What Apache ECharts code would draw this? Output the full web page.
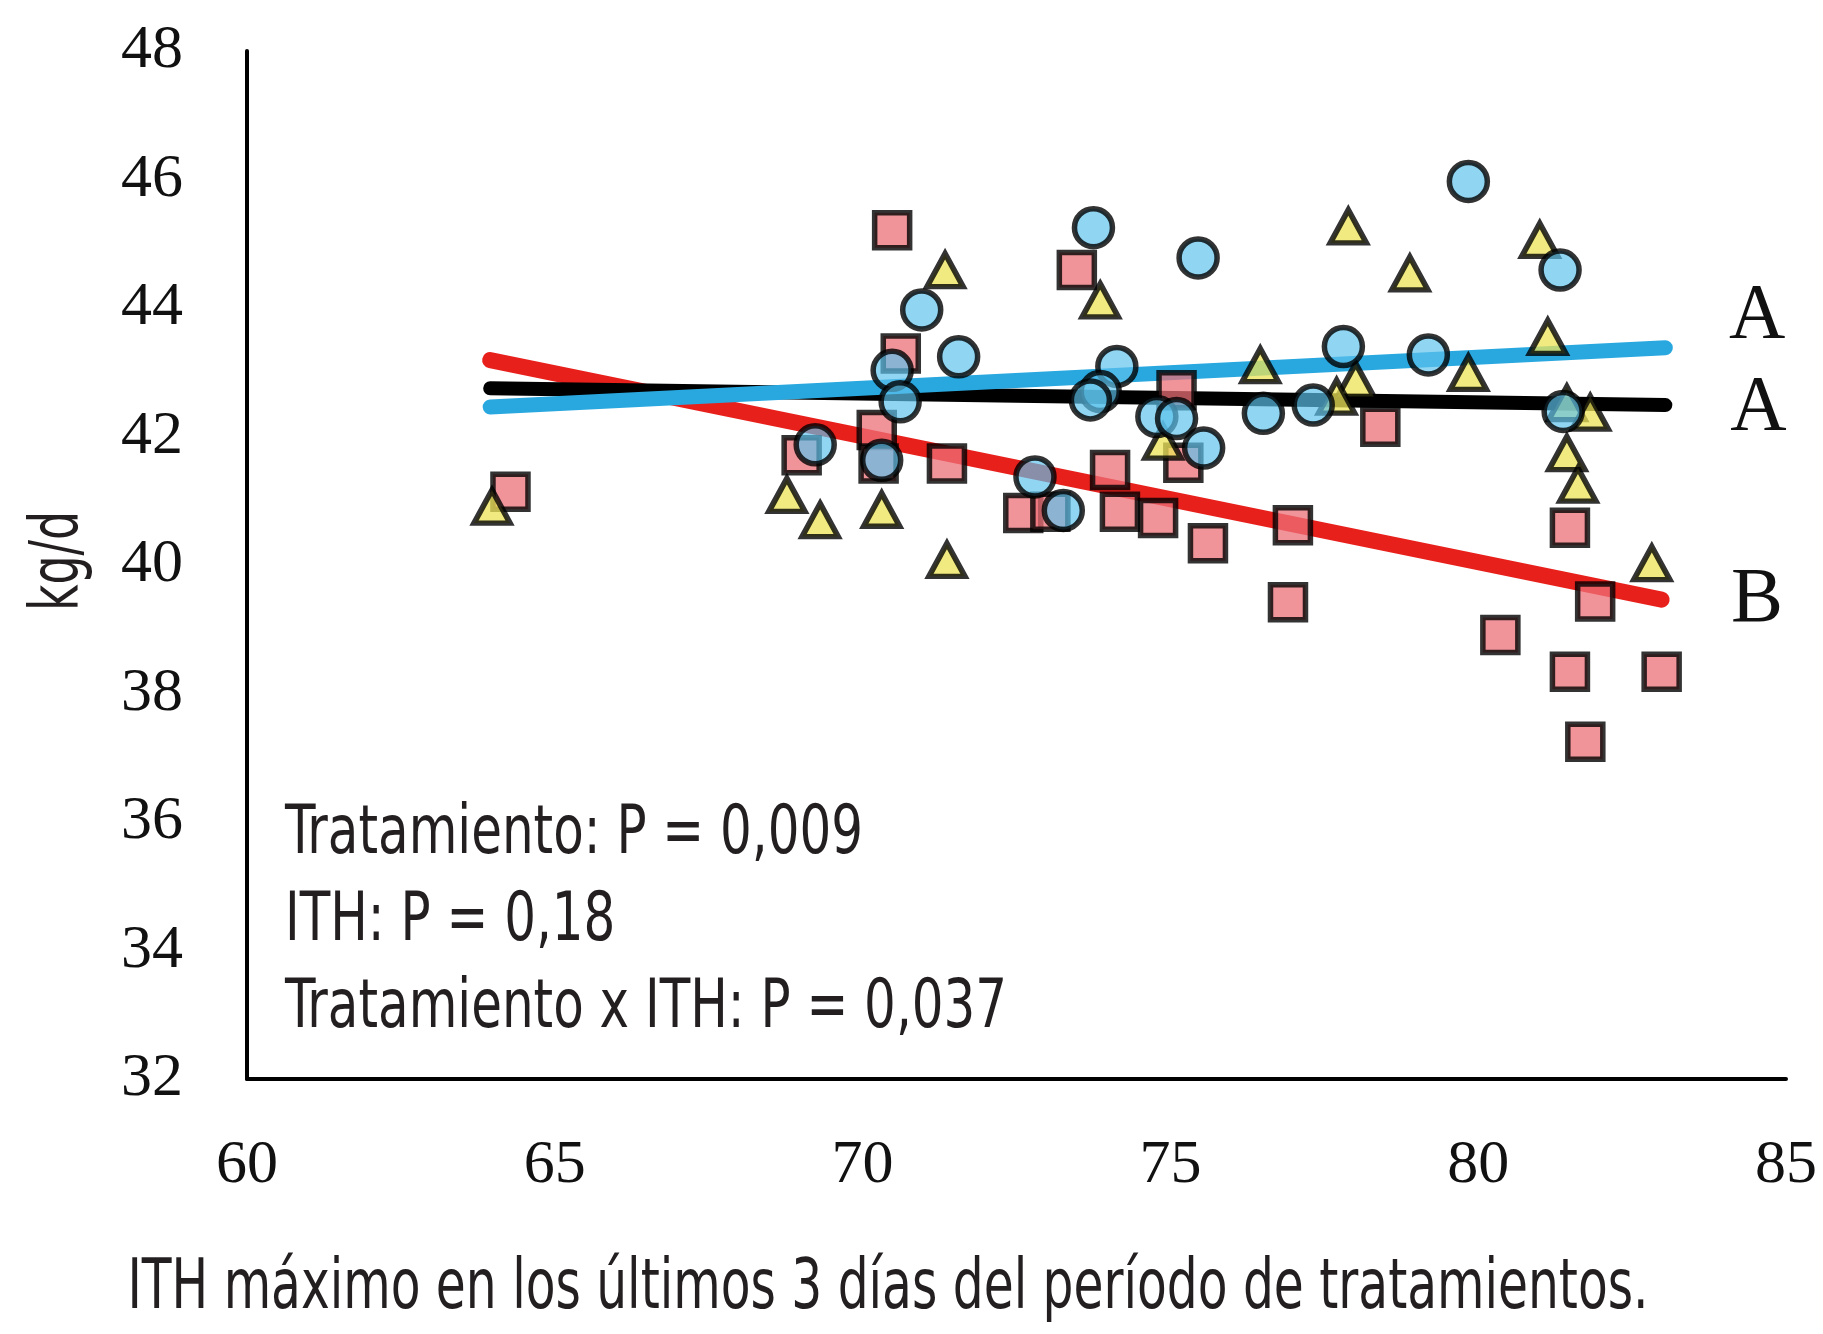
<!DOCTYPE html>
<html>
<head>
<meta charset="utf-8">
<script src="https://cdn.jsdelivr.net/npm/echarts@6/dist/echarts.min.js"></script>
<style>
html,body{margin:0;padding:0;background:#fff;}
#chart{width:1823px;height:1334px;}
</style>
</head>
<body>
<div id="chart"></div>
<script>
// ---- Data ----
// Treatment with squares (red regression, group B)
const squaresX = [64.28,70.48,70.62,70.23,69.01,71.37,70.26,73.48,72.61,73.05,74.02,74.18,74.80,75.10,75.21,75.61,76.99,76.91,78.41,80.36,81.49,81.90,81.49,81.74,82.98];
const squaresY = [41.14,45.21,43.29,42.10,41.71,41.58,41.58,44.59,40.81,40.83,41.48,40.83,40.73,42.72,41.59,40.34,40.62,39.42,42.15,38.91,40.58,39.43,38.34,37.25,38.34];
// Treatment with circles (blue regression)
const circlesX = [69.23,70.48,70.61,70.31,71.56,70.96,72.80,73.26,73.75,75.45,74.13,73.86,73.70,74.78,75.10,75.54,76.51,77.32,77.81,79.19,79.84,81.33,81.38];
const circlesY = [41.87,43.03,42.54,41.63,43.24,43.97,41.37,40.85,45.25,44.78,43.09,42.70,42.57,42.31,42.28,41.82,42.36,42.49,43.40,43.27,45.97,44.59,42.39];
// Treatment with triangles (black regression)
const trianglesX = [63.98,68.77,69.31,70.31,71.37,71.34,73.86,74.88,76.46,77.89,78.01,77.70,78.89,79.84,81.00,81.13,81.44,81.82,81.44,81.62,82.82];
const trianglesY = [40.91,41.09,40.70,40.86,40.08,44.59,44.12,41.92,43.11,45.27,42.88,42.62,44.54,42.99,45.06,43.55,42.52,42.37,41.74,41.25,40.03];
// Regression lines: [x start, x end], [y start, y end]
const redLineX = [63.95, 82.98];   const redLineY = [43.19, 39.46];
const blackLineX = [63.95, 83.04]; const blackLineY = [42.75, 42.49];
const blueLineX = [63.95, 83.04];  const blueLineY = [42.46, 43.38];
// Significance letters
const letterText = ['A','A','B'];
const letterX = [84.53, 84.55, 84.53];
const letterY = [43.86, 42.44, 39.45];
// Axis ticks
const xTicks = [60,65,70,75,80,85];
const yTicks = [32,34,36,38,40,42,44,46,48];
const statsLines = ['Tratamiento: P = 0,009','ITH: P = 0,18','Tratamiento x ITH: P = 0,037'];
const xTitle = 'ITH máximo en los últimos 3 días del período de tratamientos.';
const yTitle = 'kg/d';

const zip = (xs, ys) => xs.map((x, i) => [x, ys[i]]);

const sansFont = '"Liberation Sans Narrow", "DejaVu Sans Condensed", "Noto Sans", sans-serif';
const serifFont = '"Liberation Serif", "DejaVu Serif", serif';

// horizontal squeeze so that a text reaches a target width (reference uses a condensed face)
const ctx = document.createElement('canvas').getContext('2d');
function squeeze(text, size, target) {
  ctx.font = size + 'px ' + sansFont;
  const w = ctx.measureText(text).width;
  return Math.min(1, target / w);
}

const chart = echarts.init(document.getElementById('chart'), null, {renderer: 'canvas'});

const lineSeries = (name, xs, ys, color, width) => ({
  name, type: 'line', data: zip(xs, ys), symbol: 'none', z: 2,
  lineStyle: {color, width, cap: 'round'}, silent: true, animation: false
});

const statsSize = 68;
const graphics = statsLines.map((t, i) => ({
  type: 'text', x: 285, y: 835 + i * 87, z: 1,
  scaleX: squeeze(statsLines[0], statsSize, 578), scaleY: 1,
  style: {text: t, fill: '#231f20', font: statsSize + 'px ' + sansFont, textVerticalAlign: 'middle'}
}));
graphics.push({
  type: 'text', x: 888, y: 1290, z: 1,
  scaleX: squeeze(xTitle, 70, 1521), scaleY: 1,
  style: {text: xTitle, fill: '#231f20', font: '70px ' + sansFont, textAlign: 'center', textVerticalAlign: 'middle'}
});
graphics.push({
  type: 'text', x: 60, y: 561, z: 1, rotation: Math.PI / 2,
  scaleX: squeeze(yTitle, 68, 100), scaleY: 1,
  style: {text: yTitle, fill: '#231f20', font: '68px ' + sansFont, textAlign: 'center', textVerticalAlign: 'middle'}
});

chart.setOption({
  animation: false,
  backgroundColor: '#fff',
  grid: {left: 247, right: 37, top: 51, bottom: 255, containLabel: false, outerBoundsMode: 'none'},
  xAxis: {
    type: 'value', min: xTicks[0], max: xTicks[xTicks.length-1], interval: 5,
    axisLine: {show: true, lineStyle: {color: '#000', width: 4}},
    axisTick: {show: false}, splitLine: {show: false},
    axisLabel: {color: '#111', fontFamily: serifFont, fontSize: 62, margin: 56}
  },
  yAxis: {
    type: 'value', min: yTicks[0], max: yTicks[yTicks.length-1], interval: 2,
    axisLine: {show: true, lineStyle: {color: '#000', width: 4}},
    axisTick: {show: false}, splitLine: {show: false},
    axisLabel: {color: '#111', fontFamily: serifFont, fontSize: 62, margin: 64}
  },
  graphic: graphics,
  series: [
    lineSeries('Rojo', redLineX, redLineY, '#e8201c', 16),
    lineSeries('Negro', blackLineX, blackLineY, '#000000', 14),
    lineSeries('Azul', blueLineX, blueLineY, '#29a8e0', 15),
    {
      name: 'Cuadrados', type: 'scatter', data: zip(squaresX, squaresY), z: 3,
      symbol: 'rect', symbolSize: 35,
      itemStyle: {color: 'rgba(236,112,120,0.93)', borderColor: '#000', borderWidth: 5.5}
    },
    {
      name: 'Triángulos', type: 'scatter', data: zip(trianglesX, trianglesY), z: 4,
      symbol: 'triangle', symbolSize: [36, 33],
      itemStyle: {color: 'rgba(236,228,88,0.95)', borderColor: '#000', borderWidth: 5.5, borderJoin: 'miter'}
    },
    {
      name: 'Círculos', type: 'scatter', data: zip(circlesX, circlesY), z: 5,
      symbol: 'circle', symbolSize: 38,
      itemStyle: {color: 'rgba(92,194,236,0.85)', borderColor: '#000', borderWidth: 5.5}
    },
    {
      name: 'Letras', type: 'scatter', z: 6, symbolSize: 1, silent: true,
      itemStyle: {color: 'rgba(0,0,0,0)', opacity: 1},
      data: letterX.map((x, i) => ({value: [x, letterY[i]], name: letterText[i]})),
      label: {show: true, position: 'inside', formatter: p => p.name, opacity: 1,
        fontFamily: serifFont, fontSize: 78, color: '#111', textBorderWidth: 0}
    }
  ]
});
</script>
</body>
</html>
